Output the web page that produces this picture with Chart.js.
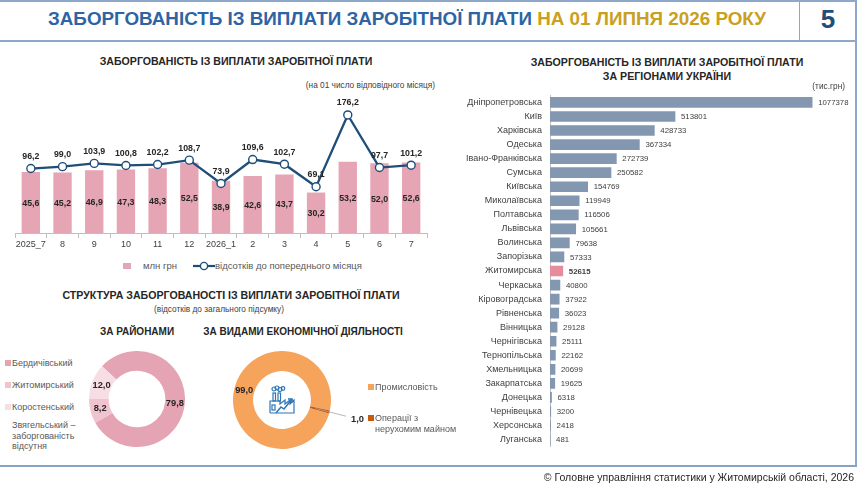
<!DOCTYPE html>
<html lang="uk">
<head>
<meta charset="utf-8">
<title>Заборгованість із виплати заробітної плати</title>
<script src="https://cdn.jsdelivr.net/npm/chart.js@4.4.1/dist/chart.umd.min.js"></script>
<style>
html, body { margin: 0; padding: 0; background: #fff; }
body { width: 859px; height: 489px; position: relative; overflow: hidden;
       font-family: "Liberation Sans", Arial, sans-serif; color: #262626; }
.abs { position: absolute; }
.line { position: absolute; background: #8EA8C9; }
.ttl { position: absolute; font-weight: bold; font-size: 10.6px; color: #262626; white-space: nowrap; text-align: center; }
.note { position: absolute; font-size: 8.3px; color: #404040; white-space: nowrap; }
.lg { position: absolute; font-size: 9px; color: #595959; white-space: nowrap; line-height: 10.5px; }
.sq { position: absolute; width: 6px; height: 6px; }
canvas { position: absolute; }
</style>
</head>
<body>

<!-- frame -->
<div class="line" style="left:0;top:0;width:857px;height:1.5px"></div>
<div class="line" style="left:0;top:40px;width:857px;height:1.5px"></div>
<div class="line" style="left:798.5px;top:0;width:1.5px;height:41px"></div>
<div class="line" style="left:855px;top:0;width:1.5px;height:466px"></div>
<div class="line" style="left:0;top:464.5px;width:857px;height:2px;background:#86A2C8"></div>

<div id="mainTitle" class="abs" style="left:48px;top:8px;font-family:'Liberation Sans Narrow','Liberation Sans',Arial,sans-serif;font-weight:bold;font-size:19px;white-space:nowrap;transform-origin:0 0;color:#2E64A4">ЗАБОРГОВАНІСТЬ ІЗ ВИПЛАТИ ЗАРОБІТНОЇ ПЛАТИ <span style="color:#C9A020">НА 01 ЛИПНЯ 2026 РОКУ</span></div>
<div class="abs" style="left:800px;top:4px;width:56px;text-align:center;font-weight:bold;font-size:26px;color:#1F4E79">5</div>

<!-- monthly combo chart -->
<div class="ttl" style="left:36px;top:55px;width:400px">ЗАБОРГОВАНІСТЬ ІЗ ВИПЛАТИ ЗАРОБІТНОЇ ПЛАТИ</div>
<div class="note" style="right:424px;top:80px">(на 01 число відповідного місяця)</div>
<canvas id="combo" width="440" height="165" style="left:0;top:92px;width:440px;height:165px"></canvas>
<div class="sq" style="left:123px;top:263px;width:8px;height:6px;background:#E6A5B5"></div>
<div class="lg" style="left:143px;top:261px;font-size:9.5px">млн грн</div>
<svg class="abs" style="left:192px;top:261px" width="24" height="10">
  <line x1="1" y1="5" x2="23" y2="5" stroke="#1F4E79" stroke-width="2.2"/>
  <circle cx="12" cy="5" r="3.6" fill="#fff" stroke="#1F4E79" stroke-width="1.4"/>
</svg>
<div class="lg" style="left:215px;top:261px;font-size:9.5px">відсотків до попереднього місяця</div>

<!-- structure -->
<div class="ttl" style="left:31px;top:289px;width:400px">СТРУКТУРА ЗАБОРГОВАНОСТІ ІЗ ВИПЛАТИ ЗАРОБІТНОЇ ПЛАТИ</div>
<div class="note" style="left:119px;top:304px;width:200px;text-align:center">(відсотків до загального підсумку)</div>
<div class="ttl" style="left:57px;top:326px;width:160px;font-size:10px">ЗА РАЙОНАМИ</div>
<div class="ttl" style="left:183px;top:326px;width:240px;font-size:10px">ЗА ВИДАМИ ЕКОНОМІЧНОЇ ДІЯЛЬНОСТІ</div>

<div id="districtLegend"></div>
<div class="lg" style="left:12px;top:420px">Звягельський –<br>заборгованість<br>відсутня</div>
<canvas id="districtRing" width="96" height="96" style="left:89px;top:351px;width:96px;height:96px"></canvas>

<canvas id="activityRing" width="140" height="98" style="left:233px;top:351px;width:140px;height:98px"></canvas>
<svg class="abs" style="left:267px;top:385px" width="30" height="30" viewBox="0 0 30 30" fill="none" stroke="#2E75B6" stroke-width="1.2">
  <circle cx="7" cy="4" r="2"/><circle cx="10" cy="3" r="2"/><circle cx="13" cy="4.5" r="2"/><circle cx="16" cy="3.5" r="1.8"/>
  <rect x="6" y="8" width="2.5" height="8"/><rect x="11" y="8" width="2.5" height="8"/>
  <polyline points="3,28 3,16 13,16 13,19 18,15 18,19 23,15 23,19 27,15 27,28 3,28"/>
  <rect x="5" y="20" width="3" height="5"/>
  <polyline points="9,28 14,22 17,24 25,14" stroke-width="1.5"/>
  <polyline points="21,14 25,14 25,18" stroke-width="1.5"/>
</svg>
<div class="sq" style="left:368px;top:384px;background:#F6A35C"></div>
<div class="lg" style="left:375px;top:382px">Промисловість</div>
<div class="sq" style="left:368px;top:415px;background:#C55A11"></div>
<div class="lg" style="left:375px;top:413px">Операції з<br>нерухомим майном</div>

<!-- regions -->
<div class="ttl" style="left:467px;top:55px;width:400px;line-height:14px">ЗАБОРГОВАНІСТЬ ІЗ ВИПЛАТИ ЗАРОБІТНОЇ ПЛАТИ<br>ЗА РЕГІОНАМИ УКРАЇНИ</div>
<div class="note" style="right:14px;top:81px">(тис.грн)</div>
<canvas id="regionBars" width="405" height="378" style="left:450px;top:82px;width:405px;height:378px"></canvas>

<div class="abs" style="right:5px;top:471px;font-size:10.5px;color:#262626;white-space:nowrap">© Головне управління статистики у Житомирській області, 2026</div>

<script>
var months = ['2025_7', '8', '9', '10', '11', '12', '2026_1', '2', '3', '4', '5', '6', '7'];
var debtMln = [45.6, 45.2, 46.9, 47.3, 48.3, 52.5, 38.9, 42.6, 43.7, 30.2, 53.2, 52.0, 52.6];
var pctPrev = [96.2, 99.0, 103.9, 100.8, 102.2, 108.7, 73.9, 109.6, 102.7, 69.1, 176.2, 97.7, 101.2];

var regions = ['Дніпропетровська', 'Київ', 'Харківська', 'Одеська', 'Івано-Франківська', 'Сумська',
    'Київська', 'Миколаївська', 'Полтавська', 'Львівська', 'Волинська', 'Запорізька', 'Житомирська',
    'Черкаська', 'Кіровоградська', 'Рівненська', 'Вінницька', 'Чернігівська', 'Тернопільська',
    'Хмельницька', 'Закарпатська', 'Донецька', 'Чернівецька', 'Херсонська', 'Луганська'];
var regionDebt = [1077378, 513801, 428733, 367334, 272739, 250582, 154769, 119949, 116506, 105661,
    79638, 57333, 52615, 40800, 37922, 36023, 29128, 25111, 22162, 20699, 19625, 6318, 3200, 2418, 481];
var homeRegion = 'Житомирська';

var districts = ['Бердичівський', 'Житомирський', 'Коростенський'];
var districtShare = [79.8, 8.2, 12.0];
var districtColors = ['#E5A4B4', '#F0C4CF', '#F7DEE4'];

var activities = ['Промисловість', 'Операції з нерухомим майном'];
var activityShare = [99.0, 1.0];
var activityColors = ['#F6A35C', '#C55A11'];

var FONT = '"Liberation Sans", Arial, sans-serif';
Chart.defaults.animation = false;
Chart.defaults.font.family = FONT;
Chart.defaults.plugins.legend.display = false;
Chart.defaults.plugins.tooltip.enabled = false;

function fmt(v) {
    return v.toFixed(1).replace('.', ',');
}

// fit the header title to its width
(function() {
    var el = document.getElementById('mainTitle');
    var w = el.getBoundingClientRect().width;
    el.style.transform = 'scaleX(' + (718 / w) + ')';
})();

// district legend
(function() {
    var box = document.getElementById('districtLegend');
    var tops = [358, 380, 402];
    districts.forEach(function(name, i) {
        box.insertAdjacentHTML('beforeend',
            '<div class="sq" style="left:5px;top:' + (tops[i] + 2) + 'px;background:' + districtColors[i] + '"></div>' +
            '<div class="lg" style="left:12px;top:' + tops[i] + 'px">' + name + '</div>');
    });
})();

var comboLabels = {
    id: 'comboLabels',
    afterDatasetsDraw: function(chart) {
        var ctx = chart.ctx;
        ctx.save();
        ctx.font = 'bold 8.8px ' + FONT;
        ctx.fillStyle = '#262626';
        ctx.textAlign = 'center';
        ctx.textBaseline = 'middle';
        chart.getDatasetMeta(1).data.forEach(function(bar, i) {
            ctx.fillText(fmt(debtMln[i]), bar.x, (bar.y + bar.base) / 2 + 1);
        });
        chart.getDatasetMeta(0).data.forEach(function(pt, i) {
            ctx.fillText(fmt(pctPrev[i]), pt.x, pt.y - 12);
        });
        ctx.restore();
    }
};

new Chart(document.getElementById('combo'), {
    type: 'bar',
    data: {
        labels: months,
        datasets: [{
            type: 'line',
            data: pctPrev,
            yAxisID: 'y1',
            order: 0,
            borderColor: '#1F4E79',
            borderWidth: 2.3,
            pointRadius: 4,
            pointBorderWidth: 1.4,
            pointBackgroundColor: '#fff',
            pointBorderColor: '#1F4E79',
            tension: 0
        }, {
            type: 'bar',
            data: debtMln,
            yAxisID: 'y',
            order: 1,
            backgroundColor: '#E6A5B5',
            barPercentage: 0.58,
            categoryPercentage: 1
        }]
    },
    options: {
        responsive: false,
        layout: { padding: { left: 15, right: 13, top: 7, bottom: 0 } },
        scales: {
            x: {
                grid: { drawOnChartArea: false, drawTicks: true, tickLength: 5, color: '#BFBFBF', offset: true },
                border: { color: '#BFBFBF' },
                ticks: { font: { size: 9 }, color: '#404040', padding: 1, maxRotation: 0, autoSkip: false },
                afterFit: function(scale) { scale.height = 24; }
            },
            y: { display: false, min: 0, max: 100 },
            y1: { display: false, min: 0, max: 200 }
        }
    },
    plugins: [comboLabels]
});

var ringLabels = {
    id: 'ringLabels',
    afterDatasetsDraw: function(chart) {
        var ctx = chart.ctx;
        var values = chart.data.datasets[0].data;
        ctx.save();
        ctx.font = 'bold 9.3px ' + FONT;
        ctx.fillStyle = '#262626';
        ctx.textBaseline = 'middle';
        chart.getDatasetMeta(0).data.forEach(function(arc, i) {
            var v = values[i];
            if (v >= 5) {
                var p = arc.tooltipPosition();
                ctx.textAlign = 'center';
                ctx.fillText(fmt(v), p.x, p.y);
            } else {
                var mid = (arc.startAngle + arc.endAngle) / 2;
                var r0 = (arc.innerRadius + arc.outerRadius) / 2 - 4;
                var r1 = arc.outerRadius + 17;
                var x1 = arc.x + Math.cos(mid) * r1, y1 = arc.y + Math.sin(mid) * r1;
                ctx.strokeStyle = '#A6A6A6';
                ctx.lineWidth = 0.8;
                ctx.beginPath();
                ctx.moveTo(arc.x + Math.cos(mid) * r0, arc.y + Math.sin(mid) * r0);
                ctx.lineTo(x1, y1);
                ctx.stroke();
                ctx.textAlign = 'left';
                ctx.fillText(fmt(v), x1 + 5, y1 + 3);
            }
        });
        ctx.restore();
    }
};

new Chart(document.getElementById('districtRing'), {
    type: 'doughnut',
    data: {
        labels: districts,
        datasets: [{ data: districtShare, backgroundColor: districtColors, borderWidth: 0 }]
    },
    options: { responsive: false, cutout: '59%', rotation: -46.8 },
    plugins: [ringLabels]
});

new Chart(document.getElementById('activityRing'), {
    type: 'doughnut',
    data: {
        labels: activities,
        datasets: [{ data: activityShare, backgroundColor: activityColors, borderWidth: 0 }]
    },
    options: { responsive: false, cutout: '59%', rotation: 106, layout: { padding: { right: 42 } } },
    plugins: [ringLabels]
});

var barEndLabels = {
    id: 'barEndLabels',
    afterDatasetsDraw: function(chart) {
        var ctx = chart.ctx;
        ctx.save();
        ctx.fillStyle = '#404040';
        ctx.textAlign = 'left';
        ctx.textBaseline = 'middle';
        chart.getDatasetMeta(0).data.forEach(function(bar, i) {
            ctx.font = (regions[i] === homeRegion ? 'bold ' : '') + '7.8px ' + FONT;
            ctx.fillText(String(regionDebt[i]), bar.x + 6, bar.y + 0.5);
        });
        ctx.restore();
    }
};

new Chart(document.getElementById('regionBars'), {
    type: 'bar',
    data: {
        labels: regions,
        datasets: [{
            data: regionDebt,
            backgroundColor: regions.map(function(r) { return r === homeRegion ? '#E68D9D' : '#8497B0'; }),
            barThickness: 10
        }]
    },
    options: {
        responsive: false,
        indexAxis: 'y',
        layout: { padding: { left: 0, right: 13, top: 4.7, bottom: 4 } },
        scales: {
            x: { display: false, min: 0, max: 1200000 },
            y: {
                grid: { display: false, drawTicks: false },
                border: { display: true, color: '#BFBFBF' },
                ticks: { font: { size: 9 }, color: '#404040', padding: 8, autoSkip: false },
                afterFit: function(scale) { scale.width = 100; }
            }
        }
    },
    plugins: [barEndLabels]
});
</script>
</body>
</html>
